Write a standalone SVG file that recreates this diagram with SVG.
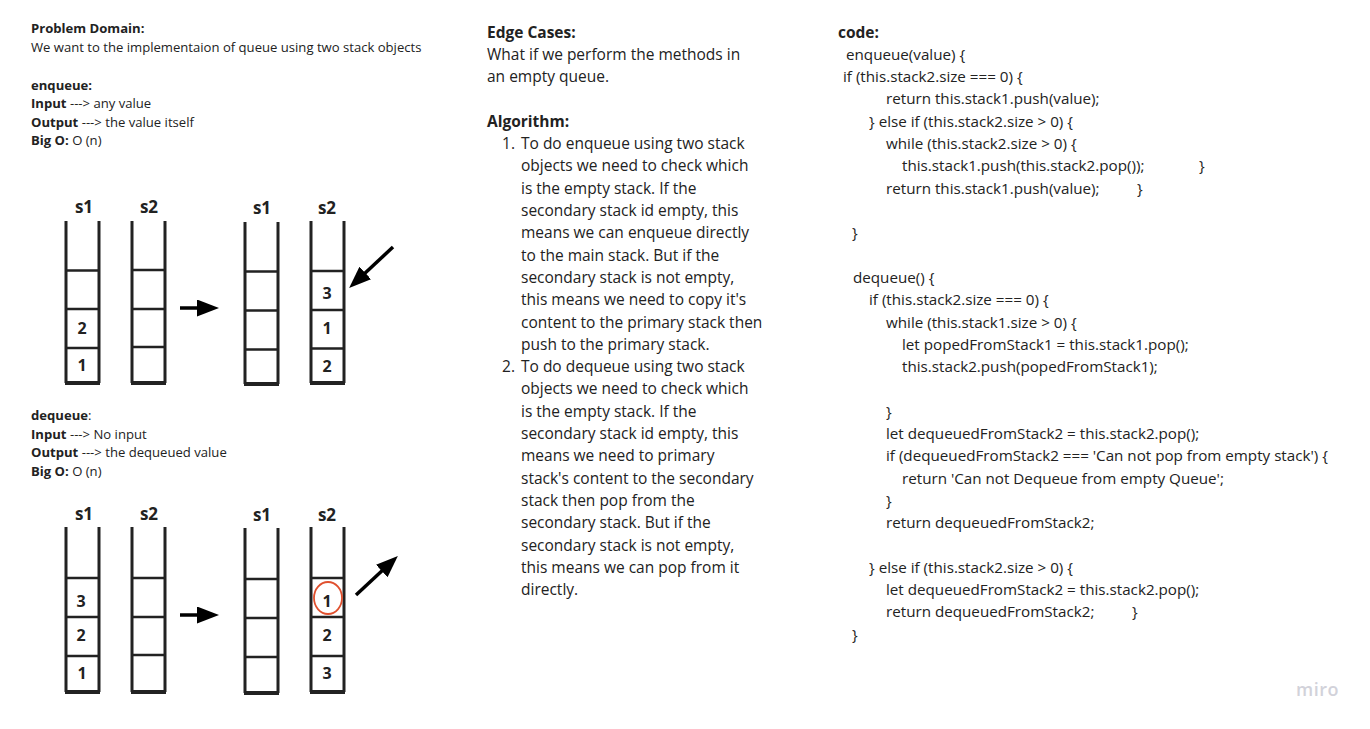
<svg xmlns="http://www.w3.org/2000/svg" width="1370" height="729" viewBox="0 0 1370 729">
<style>
text{font-family:"Open Sans","Liberation Sans",sans-serif;fill:#222}
.s{font-size:13.1px}
.m{font-size:15.5px}
.c{font-size:15.2px}
.b{font-weight:bold}
.lbl{font-size:17px;font-weight:bold;text-anchor:middle}
.num{font-size:16px;font-weight:bold;text-anchor:middle}
.v{stroke:#222;stroke-width:3;fill:none}
.h{stroke:#222;stroke-width:2.5;fill:none}
.bt{stroke:#222;stroke-width:4;fill:none}
.arr{stroke:#000;stroke-width:3.5;fill:none;marker-end:url(#ah)}
</style>
<defs>
<marker id="ah" markerUnits="userSpaceOnUse" markerWidth="22" markerHeight="17" refX="14" refY="8.5" orient="auto">
<path d="M0,0 L22,8.5 L0,17 z" fill="#000"/>
</marker>
</defs>
<rect width="1370" height="729" fill="#fff"/>

<g id="problem-text">
<text class="s b" x="31" y="33">Problem Domain:</text>
<text class="s" x="31" y="52">We want to the implementaion of queue using two stack objects</text>
<text class="s b" x="31" y="90">enqueue:</text>
<text class="s" x="31" y="108"><tspan class="b">Input</tspan> ---&gt; any value</text>
<text class="s" x="31" y="127"><tspan class="b">Output</tspan> ---&gt; the value itself</text>
<text class="s" x="31" y="145"><tspan class="b">Big O:</tspan> O (n)</text>
<text class="s" x="31" y="420"><tspan class="b">dequeue</tspan>:</text>
<text class="s" x="31" y="439"><tspan class="b">Input</tspan> ---&gt; No input</text>
<text class="s" x="31" y="457"><tspan class="b">Output</tspan> ---&gt; the dequeued value</text>
<text class="s" x="31" y="476"><tspan class="b">Big O:</tspan> O (n)</text>
</g>

<g id="enqueue-before-s1">
<text class="lbl" x="84" y="213">s1</text>
<path class="v" d="M66,221V383M99,221V383"/>
<path class="h" d="M66,270.5H99M66,309H99M66,348H99"/>
<path class="bt" d="M65,383H100"/>
<text class="num" x="82" y="334">2</text>
<text class="num" x="82" y="371">1</text>
</g>
<g id="enqueue-before-s2">
<text class="lbl" x="149" y="213">s2</text>
<path class="v" d="M132,221V383M165,221V383"/>
<path class="h" d="M132,270H165M132,309H165M132,347H165"/>
<path class="bt" d="M131,383H166"/>
</g>
<g id="enqueue-after-s1">
<text class="lbl" x="262" y="214">s1</text>
<path class="v" d="M245,222V384M278,222V384"/>
<path class="h" d="M245,271.5H278M245,310.5H278M245,349.5H278"/>
<path class="bt" d="M244,384H279"/>
</g>
<g id="enqueue-after-s2">
<text class="lbl" x="327" y="214">s2</text>
<path class="v" d="M311,221V383M344,221V383"/>
<path class="h" d="M311,271H344M311,310H344M311,348.5H344"/>
<path class="bt" d="M310,383H345"/>
<text class="num" x="327" y="299">3</text>
<text class="num" x="327" y="334">1</text>
<text class="num" x="327" y="372">2</text>
</g>

<g id="dequeue-before-s1">
<text class="lbl" x="84" y="520">s1</text>
<path class="v" d="M66,527V692M99,527V692"/>
<path class="h" d="M66,578H99M66,617H99M66,656H99"/>
<path class="bt" d="M65,692H100"/>
<text class="num" x="81" y="607">3</text>
<text class="num" x="81" y="641">2</text>
<text class="num" x="82" y="679">1</text>
</g>
<g id="dequeue-before-s2">
<text class="lbl" x="149" y="520">s2</text>
<path class="v" d="M132,527V692M165,527V692"/>
<path class="h" d="M132,578H165M132,617H165M132,655H165"/>
<path class="bt" d="M131,692H166"/>
</g>
<g id="dequeue-after-s1">
<text class="lbl" x="262" y="521">s1</text>
<path class="v" d="M245,528V693M278,528V693"/>
<path class="h" d="M245,579H278M245,618H278M245,657H278"/>
<path class="bt" d="M244,693H279"/>
</g>
<g id="dequeue-after-s2">
<text class="lbl" x="327" y="521">s2</text>
<path class="v" d="M311,527V692M344,527V692"/>
<path class="h" d="M311,578H344M311,617H344M311,656H344"/>
<path class="bt" d="M310,692H345"/>
<ellipse cx="328" cy="598" rx="14" ry="16" fill="none" stroke="#e0502e" stroke-width="1.8"/>
<text class="num" x="327" y="607">1</text>
<text class="num" x="327" y="641">2</text>
<text class="num" x="327" y="679">3</text>
</g>

<g id="connectors">
<line class="arr" x1="180" y1="308" x2="211" y2="308"/>
<line class="arr" x1="393" y1="247" x2="355" y2="282.5"/>
<line class="arr" x1="180" y1="615" x2="211" y2="615"/>
<line class="arr" x1="356" y1="595" x2="392" y2="561.5"/>
</g>

<g id="edge-cases-text">
<text class="m b" x="487" y="38">Edge Cases:</text>
<text class="m" x="487" y="60">What if we perform the methods in</text>
<text class="m" x="487" y="82">an empty queue.</text>
<text class="m b" x="487" y="127">Algorithm:</text>
<text class="m" x="515" y="149" text-anchor="end">1.</text>
<text class="m" x="521" y="149">To do enqueue using two stack</text>
<text class="m" x="521" y="171">objects we need to check which</text>
<text class="m" x="521" y="194">is the empty stack. If the</text>
<text class="m" x="521" y="216">secondary stack id empty, this</text>
<text class="m" x="521" y="238">means we can enqueue directly</text>
<text class="m" x="521" y="261">to the main stack. But if the</text>
<text class="m" x="521" y="283">secondary stack is not empty,</text>
<text class="m" x="521" y="305">this means we need to copy it's</text>
<text class="m" x="521" y="328">content to the primary stack then</text>
<text class="m" x="521" y="350">push to the primary stack.</text>
<text class="m" x="515" y="372" text-anchor="end">2.</text>
<text class="m" x="521" y="372">To do dequeue using two stack</text>
<text class="m" x="521" y="394">objects we need to check which</text>
<text class="m" x="521" y="417">is the empty stack. If the</text>
<text class="m" x="521" y="439">secondary stack id empty, this</text>
<text class="m" x="521" y="461">means we need to primary</text>
<text class="m" x="521" y="484">stack's content to the secondary</text>
<text class="m" x="521" y="506">stack then pop from the</text>
<text class="m" x="521" y="528">secondary stack. But if the</text>
<text class="m" x="521" y="551">secondary stack is not empty,</text>
<text class="m" x="521" y="573">this means we can pop from it</text>
<text class="m" x="521" y="595">directly.</text>
</g>

<g id="code-text">
<text class="m b" x="838" y="38">code:</text>
<text class="c" x="846" y="60">enqueue(value) {</text>
<text class="c" x="843" y="82">if (this.stack2.size === 0) {</text>
<text class="c" x="886" y="104">return this.stack1.push(value);</text>
<text class="c" x="869" y="127">} else if (this.stack2.size &gt; 0) {</text>
<text class="c" x="886" y="149">while (this.stack2.size &gt; 0) {</text>
<text class="c" x="902" y="171">this.stack1.push(this.stack2.pop());</text>
<text class="c" x="1199" y="171">}</text>
<text class="c" x="886" y="194">return this.stack1.push(value);</text>
<text class="c" x="1137" y="194">}</text>
<text class="c" x="852" y="238">}</text>
<text class="c" x="853" y="283">dequeue() {</text>
<text class="c" x="869" y="305">if (this.stack2.size === 0) {</text>
<text class="c" x="886" y="328">while (this.stack1.size &gt; 0) {</text>
<text class="c" x="902" y="350">let popedFromStack1 = this.stack1.pop();</text>
<text class="c" x="902" y="372">this.stack2.push(popedFromStack1);</text>
<text class="c" x="886" y="417">}</text>
<text class="c" x="886" y="439">let dequeuedFromStack2 = this.stack2.pop();</text>
<text class="c" x="886" y="461">if (dequeuedFromStack2 === 'Can not pop from empty stack') {</text>
<text class="c" x="902" y="484">return 'Can not Dequeue from empty Queue';</text>
<text class="c" x="886" y="506">}</text>
<text class="c" x="886" y="528">return dequeuedFromStack2;</text>
<text class="c" x="869" y="573">} else if (this.stack2.size &gt; 0) {</text>
<text class="c" x="886" y="595">let dequeuedFromStack2 = this.stack2.pop();</text>
<text class="c" x="886" y="617">return dequeuedFromStack2;</text>
<text class="c" x="1132" y="617">}</text>
<text class="c" x="852" y="640">}</text>
</g>

<text x="1296" y="696" style="font-size:18px;font-weight:600;fill:#d2d2da;letter-spacing:0.5px">miro</text>
</svg>
